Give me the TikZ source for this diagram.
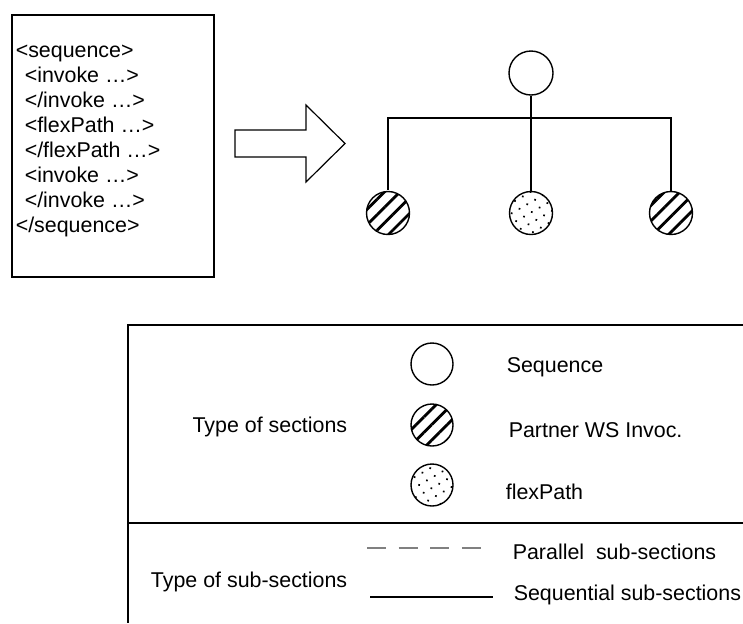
\documentclass[tikz,border=0pt]{standalone}
\usepackage{fontspec}
\setmainfont{Liberation Sans}
\usetikzlibrary{patterns.meta}
\tikzset{
  sec/.style={circle,draw,line width=0.7pt,inner sep=0pt,minimum size=21.5pt},
  invoc/.style={sec,pattern={Lines[angle=45,distance=5.5pt,line width=1.4pt]}},
  flexp/.style={sec,pattern={Dots[radius=0.6pt,distance=4.5pt,angle=30]}},
  txt/.style={font=\fontsize{10.7pt}{12.5pt}\selectfont,inner sep=0pt},
}
\begin{document}
\begin{tikzpicture}[x=0.5pt,y=-0.5pt,line width=0.8pt]
      \useasboundingbox (0,0) rectangle (743,623);
      \draw (12,15) rectangle (214,277);
      \draw
        (15,57.5) node[txt,anchor=base west] (l1){<sequence>}
        (24,82.5) node[txt,anchor=base west] (l2){<invoke …>}
        (24,107.5) node[txt,anchor=base west] (l3){</invoke …>}
        (24,132.5) node[txt,anchor=base west] (l4){<flexPath …>}
        (24,157.5) node[txt,anchor=base west] (l5){</flexPath …>}
        (24,182.5) node[txt,anchor=base west] (l6){<invoke …>}
        (24,207.5) node[txt,anchor=base west] (l7){</invoke …>}
        (15,232.5) node[txt,anchor=base west] (l8){</sequence>};
      \draw[line width=0.6pt] (235,130) -- (306,130) -- (306,105) -- (345,143.5)
        -- (306,182) -- (306,157) -- (235,157) -- cycle;
      \node[sec,minimum size=22pt] (root) at (531,73) {};
      \node[invoc] (inv1) at (388,213) {};
      \node[flexp] (flex) at (531,213) {};
      \node[invoc] (inv2) at (671,213) {};
      \coordinate (bar) at (531,118);
      \begin{scope}[line width=0.9pt]
        \draw (root) to (bar);
        \draw (bar) -| (inv1);
        \draw (bar) to (flex);
        \draw (bar) -| (inv2);
      \end{scope}
      \draw (743,325) -- (128,325) -- (128,623);
      \draw (128,523) -- (743,523);
      \node[txt,anchor=east] (secs) at (348,427) {Type of sections};
      \node[sec,minimum size=21pt] (kseq) at (432,364) {};
      \node[invoc,minimum size=21pt] (kinv) at (432,425) {};
      \node[flexp,minimum size=21pt] (kflex) at (432,485) {};
      \node[txt,anchor=west] (tseq) at (506,367) {Sequence};
      \node[txt,anchor=west] (tinv) at (508,430) {Partner WS Invoc.};
      \node[txt,anchor=west] (tflex) at (505,492) {flexPath};
      \node[txt,anchor=east] (subs) at (348,582) {Type of sub-sections};
      \coordinate (p1) at (367,548);
      \coordinate (p2) at (481,548);
      \coordinate (s1) at (370,597);
      \coordinate (s2) at (493,597);
      \draw[gray,line width=0.6pt,dash pattern=on 9.5pt off 6.3pt] (p1) -- (p2);
      \draw[line width=0.6pt] (s1) -- (s2);
      \node[txt,anchor=west] (tpar) at (512,552) {Parallel\ \ sub-sections};
      \node[txt,anchor=west] (tsq) at (513,595) {Sequential sub-sections};
    \end{tikzpicture}
\end{document}
